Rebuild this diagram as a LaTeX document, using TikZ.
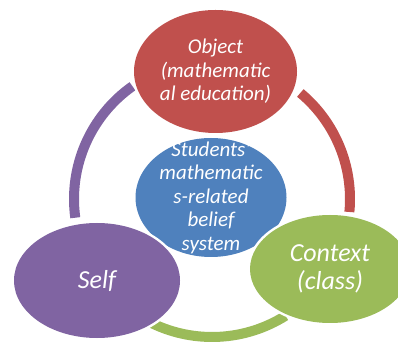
\documentclass[tikz,border=0pt]{standalone}
\usepackage{fontspec}
\setmainfont{Carlito}
\definecolor{objred}{HTML}{C0504D}
\definecolor{ctxgreen}{HTML}{9BBB59}
\definecolor{selfpurple}{HTML}{8064A2}
\definecolor{beliefblue}{HTML}{4F81BD}
\tikzset{
  bubble/.style={preaction={draw=white,line width=5pt}},
  ringseg/.style={line width=10pt},
  smalltxt/.style={text=white,align=center,inner sep=0pt,font=\itshape\fontsize{21}{23.5}\selectfont},
  bigtxt/.style={text=white,align=center,inner sep=0pt,font=\itshape\fontsize{26}{28}\selectfont}
}

\begin{document}
\begin{tikzpicture}[x=1pt,y=1pt]
\clip (0,0) rectangle (398,342);
\coordinate (ring) at (212,143);
% --- ring segments between the outer bubbles
\foreach \a/\b/\c in {187.8/125.2/selfpurple, 50.2/-5.4/objred, -57.8/-115.7/ctxgreen}{
\draw[ringseg,\c] ([shift={(\a:138)}]ring) arc[start angle=\a,end angle=\b,radius=138];
}
% --- centre bubble
\fill[bubble,fill=beliefblue] (211,144.5) ellipse[x radius=75.5,y radius=59.5];
\node[smalltxt] (belief) at (211,144.5) {Students'\\mathematic\\s-related\\belief\\system};
% --- outer bubbles
\fill[bubble,fill=objred] (215.5,270.5) ellipse[x radius=81.5,y radius=61.5];
\node[smalltxt] (obj) at (215.5,270.5) {Object\\(mathematic\\al education)};
\fill[bubble,fill=selfpurple] (97,61.5) ellipse[x radius=83,y radius=57.5];
\node[bigtxt] (self) at (97,61.5) {Self};
\fill[bubble,fill=ctxgreen] (330,73) ellipse[x radius=80,y radius=54];
\node[bigtxt] (ctx) at (330,73) {Context\\(class)};
\end{tikzpicture}
\end{document}
